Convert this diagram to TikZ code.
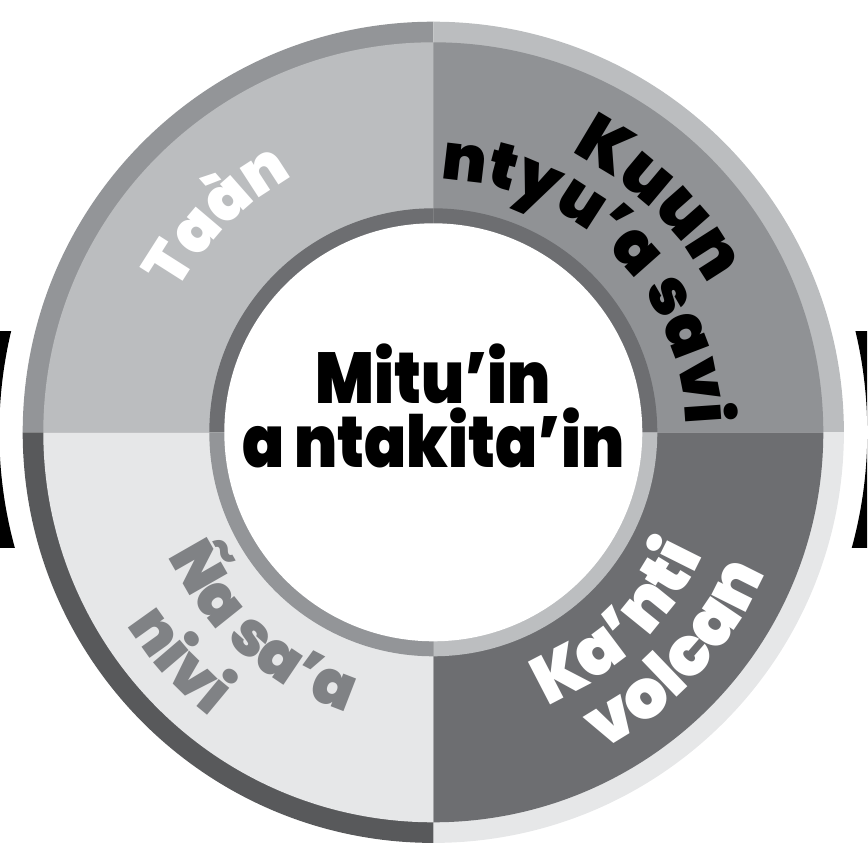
\documentclass[tikz,border=0pt]{standalone}
\usepackage{fontspec}
\setmainfont{Poppins}
\newfontfamily\heavy{Poppins Black}
\newfontfamily\heavycond{Poppins Black}[FakeStretch=0.86]
\usetikzlibrary{decorations.text}
\definecolor{fTL}{HTML}{BBBDBF}
\definecolor{fTR}{HTML}{909295}
\definecolor{fBR}{HTML}{6D6E71}
\definecolor{fBL}{HTML}{E6E7E8}
\definecolor{bTL}{HTML}{939598}
\definecolor{bTR}{HTML}{BBBDBF}
\definecolor{bBR}{HTML}{E6E7E8}
\definecolor{bBL}{HTML}{58595B}
\definecolor{rTL}{HTML}{6D6E71}
\definecolor{rTR}{HTML}{6D6E71}
\definecolor{rBR}{HTML}{BCBEC0}
\definecolor{rBL}{HTML}{939598}
\definecolor{tBL}{HTML}{808285}
\tikzset{
  arctext/.style={decorate, decoration={text along path, text align=center, text={#1}}},
  centertext/.style={anchor=base, inner sep=0, font=\heavycond\fontsize{72}{72}\selectfont}
}
\begin{document}
\begin{tikzpicture}[x=1pt,y=1pt]
\useasboundingbox (-433.3,-434.7) rectangle (433.7,432.3);
\clip (-433.3,-434.7) rectangle (433.7,432.3);
% side brackets
\begin{scope}
  \clip (-440,-115) rectangle (440,101);
  \fill[black,even odd rule] (0,0) circle[radius=460] (0,0) circle[radius=434];
\end{scope}
% quadrants
\foreach \a/\q in {90/TL,0/TR,-90/BR,180/BL}{
  \fill[b\q] (0,0) -- (\a:410.6) arc[start angle=\a, end angle=\a+90, radius=410.6] -- cycle;
  \fill[f\q] (0,0) -- (\a:390) arc[start angle=\a, end angle=\a+90, radius=390] -- cycle;
  \fill[r\q] (0,0) -- (\a:224) arc[start angle=\a, end angle=\a+90, radius=224] -- cycle;
}
\fill[white] (0,0) circle[radius=209];
% center text
\node[centertext] (t1) at (0,29) {Mitu’in};
\node[centertext] (t2) at (0,-35) {a ntakita’in};
% quadrant labels
\path[arctext={|\heavy\fontsize{62}{62}\selectfont\color{white}|Taàn}]
  (195:292) arc[start angle=195, end angle=75, radius=292];
\path[arctext={|\heavy\fontsize{68}{68}\selectfont\color{black}|Kuun}]
  (106:312) arc[start angle=106, end angle=-14, radius=312];
\path[arctext={|\heavy\fontsize{64}{64}\selectfont\color{black}|ntyu’a savi}]
  (115:253) arc[start angle=115, end angle=-25, radius=253];
\path[arctext={|\heavy\fontsize{68}{68}\selectfont\color{white}|Ka’nti}]
  (-116:296) arc[start angle=-116, end angle=24, radius=296];
\path[arctext={|\heavy\fontsize{68}{68}\selectfont\color{white}|volcan}]
  (-112:360) arc[start angle=-112, end angle=27, radius=360];
\path[arctext={|\heavy\fontsize{62}{62}\selectfont\color{tBL}|Ña sa’a}]
  (159:293) arc[start angle=159, end angle=299, radius=293];
\path[arctext={|\heavy\fontsize{62}{62}\selectfont\color{tBL}|nivi}]
  (152:362) arc[start angle=152, end angle=292, radius=362];
\end{tikzpicture}
\end{document}
